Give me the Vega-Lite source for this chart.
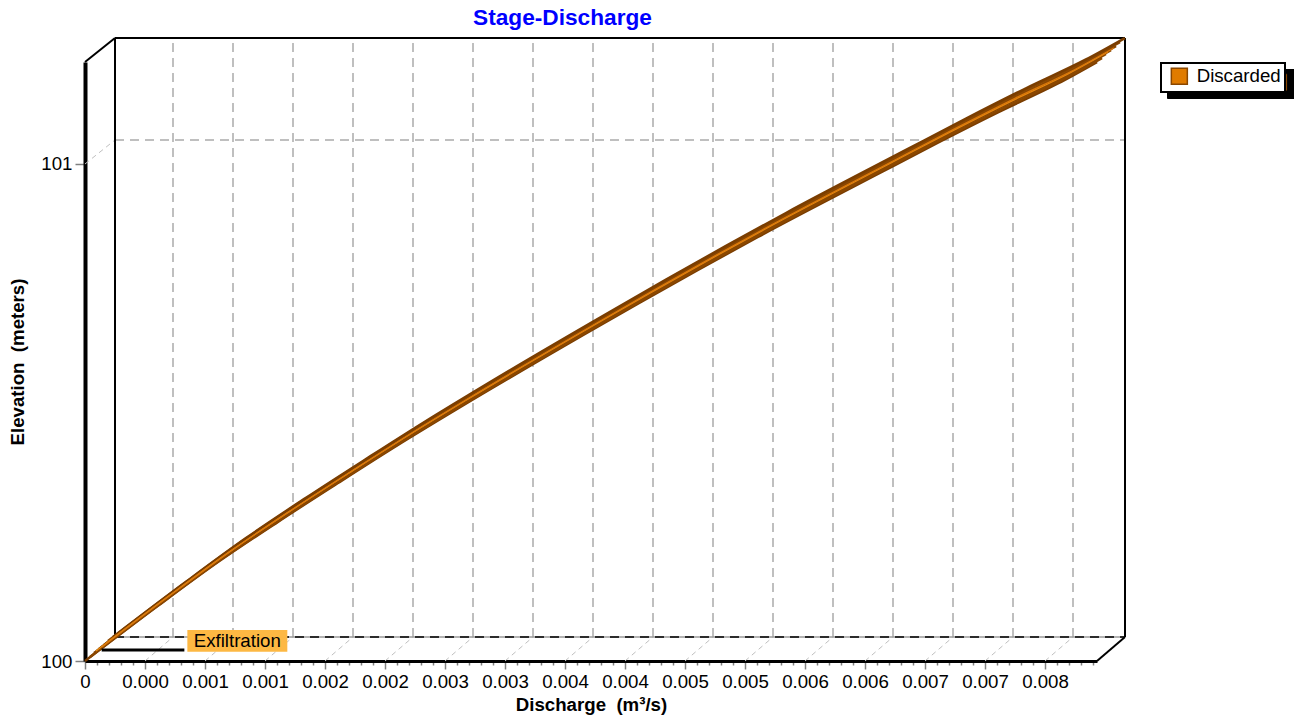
{
  "$schema": "https://vega.github.io/schema/vega-lite/v6.json",
  "width": 1012,
  "height": 599,
  "autosize": "none",
  "padding": {"left": 85, "top": 62, "right": 197, "bottom": 56},
  "background": "white",
  "config": {"view": {"stroke": null}, "font": "Liberation Sans"},
  "title": {"text": "Stage-Discharge", "color": "#0000FF", "font": "Liberation Sans", "fontSize": 22.67, "fontWeight": "bold", "anchor": "middle", "dx": -28.5, "dy": 27, "offset": 12, "baseline": "alphabetic", "frame": "group"},
  "resolve": {"axis": {"x": "independent", "y": "independent"}},
  "datasets": {
    "curve": [
      {"q": 0, "elev": 100, "series": "Discarded"},
      {"q": 0.000608, "elev": 100.1110, "series": "Discarded"},
      {"q": 0.001108, "elev": 100.1990, "series": "Discarded"},
      {"q": 0.001608, "elev": 100.2800, "series": "Discarded"},
      {"q": 0.002108, "elev": 100.3580, "series": "Discarded"},
      {"q": 0.002608, "elev": 100.4346, "series": "Discarded"},
      {"q": 0.003108, "elev": 100.5080, "series": "Discarded"},
      {"q": 0.004167, "elev": 100.6579, "series": "Discarded"},
      {"q": 0.004608, "elev": 100.7190, "series": "Discarded"},
      {"q": 0.005108, "elev": 100.7870, "series": "Discarded"},
      {"q": 0.005608, "elev": 100.8531, "series": "Discarded"},
      {"q": 0.006608, "elev": 100.9799, "series": "Discarded"},
      {"q": 0.007108, "elev": 101.0430, "series": "Discarded"},
      {"q": 0.007608, "elev": 101.1040, "series": "Discarded"},
      {"q": 0.008108, "elev": 101.1620, "series": "Discarded"},
      {"q": 0.008433, "elev": 101.2052, "series": "Discarded"}
    ],
    "xgrid": [
      {"q": 0.0005}, {"q": 0.001}, {"q": 0.0015}, {"q": 0.002}, {"q": 0.0025}, {"q": 0.003}, {"q": 0.0035}, {"q": 0.004},
      {"q": 0.0045}, {"q": 0.005}, {"q": 0.0055}, {"q": 0.006}, {"q": 0.0065}, {"q": 0.007}, {"q": 0.0075}, {"q": 0.008}
    ],
    "annot": [
      {"label": "Exfiltration", "q1": 0.000139, "q2": 0.000828, "elev": 100.0221, "bq1": 0.000853, "bq2": 0.001686, "be1": 100.0187, "be2": 100.0624, "tq": 0.001269, "te": 100.0406}
    ]
  },
  "layer": [
    {
      "data": {"name": "xgrid"},
      "mark": {"type": "rule", "color": "#BFBFBF", "strokeWidth": 2, "strokeDash": [9, 6], "xOffset": 28, "x2Offset": 28, "yOffset": -24, "y2Offset": -24},
      "encoding": {
        "x": {
          "field": "q", "type": "quantitative",
          "scale": {"domain": [0, 0.0084333], "nice": false, "zero": false},
          "axis": {
            "values": [0, 0.0001, 0.0002, 0.0003, 0.0004, 0.0005, 0.0006, 0.0007, 0.0008, 0.0009, 0.001, 0.0011, 0.0012, 0.0013, 0.0014, 0.0015, 0.0016, 0.0017, 0.0018, 0.0019, 0.002, 0.0021, 0.0022, 0.0023, 0.0024, 0.0025, 0.0026, 0.0027, 0.0028, 0.0029, 0.003, 0.0031, 0.0032, 0.0033, 0.0034, 0.0035, 0.0036, 0.0037, 0.0038, 0.0039, 0.004, 0.0041, 0.0042, 0.0043, 0.0044, 0.0045, 0.0046, 0.0047, 0.0048, 0.0049, 0.005, 0.0051, 0.0052, 0.0053, 0.0054, 0.0055, 0.0056, 0.0057, 0.0058, 0.0059, 0.006, 0.0061, 0.0062, 0.0063, 0.0064, 0.0065, 0.0066, 0.0067, 0.0068, 0.0069, 0.007, 0.0071, 0.0072, 0.0073, 0.0074, 0.0075, 0.0076, 0.0077, 0.0078, 0.0079, 0.008, 0.0081, 0.0082, 0.0083, 0.0084],
            "labelExpr": "round(datum.value*10000) % 5 == 0 ? (datum.value == 0 ? '0' : format(floor(round(datum.value*10000)/10)/1000, '.3f')) : ''",
            "tickSize": {"condition": {"test": "round(datum.value*10000) % 5 == 0", "value": 8}, "value": 4},
            "tickColor": "#808080",
            "tickWidth": 1.5,
            "grid": false,
            "domainColor": "#000000",
            "domainWidth": 3,
            "labelFont": "Liberation Sans",
            "labelFontSize": 18.67,
            "labelColor": "#000000",
            "labelPadding": 3,
            "labelFlush": false,
            "labelOverlap": false,
            "title": "Discharge \u00a0(m³/s)",
            "titleFont": "Liberation Sans",
            "titleFontSize": 18.67,
            "titleFontWeight": "bold",
            "titleColor": "#000000",
            "titleX": 506,
            "titleY": 49,
            "titleAlign": "center",
            "titleBaseline": "alphabetic"
          }
        },
        "x2": {"field": "q"},
        "y": {
          "datum": 100, "type": "quantitative",
          "scale": {"domain": [100, 101.2052], "nice": false, "zero": false},
          "axis": {
            "values": [100, 101],
            "format": "d",
            "tickSize": 10,
            "tickColor": "#808080",
            "tickWidth": 1.5,
            "grid": false,
            "domainColor": "#000000",
            "domainWidth": 4,
            "labelFont": "Liberation Sans",
            "labelFontSize": 18.67,
            "labelColor": "#000000",
            "labelPadding": 3,
            "labelFlush": false,
            "labelOverlap": false,
            "title": "Elevation \u00a0(meters)",
            "titleFont": "Liberation Sans",
            "titleFontSize": 18.67,
            "titleFontWeight": "bold",
            "titleColor": "#000000",
            "titleX": -68,
            "titleY": 299.5,
            "titleAngle": 270,
            "titleAlign": "center",
            "titleBaseline": "middle"
          }
        },
        "y2": {"datum": 101.2052}
      }
    },
    {
      "data": {"name": "xgrid"},
      "mark": {"type": "rule", "color": "#BFBFBF", "strokeWidth": 1, "strokeDash": [5, 4], "x2Offset": 28, "y2Offset": -24},
      "encoding": {
        "x": {"field": "q", "type": "quantitative", "axis": null},
        "x2": {"field": "q"},
        "y": {"datum": 100, "type": "quantitative", "axis": null},
        "y2": {"datum": 100}
      }
    },
    {
      "data": {"values": [{}]},
      "mark": {"type": "rule", "color": "#BFBFBF", "strokeWidth": 2, "strokeDash": [9, 6], "xOffset": 30, "x2Offset": 28, "yOffset": -24, "y2Offset": -24},
      "encoding": {
        "x": {"datum": 0, "type": "quantitative", "axis": null},
        "x2": {"datum": 0.0084333},
        "y": {"datum": 101, "type": "quantitative", "axis": null},
        "y2": {"datum": 101}
      }
    },
    {
      "data": {"values": [{}]},
      "mark": {"type": "rule", "color": "#BFBFBF", "strokeWidth": 1, "strokeDash": [5, 4], "x2Offset": 30, "y2Offset": -24},
      "encoding": {
        "x": {"datum": 0, "type": "quantitative", "axis": null},
        "x2": {"datum": 0},
        "y": {"datum": 101, "type": "quantitative", "axis": null},
        "y2": {"datum": 101}
      }
    },
    {
      "data": {"values": [{}]},
      "mark": {"type": "rule", "color": "#9A9A9A", "strokeWidth": 1.5, "xOffset": 30, "x2Offset": 28, "yOffset": -24, "y2Offset": -24},
      "encoding": {
        "x": {"datum": 0, "type": "quantitative", "axis": null},
        "x2": {"datum": 0.0084333},
        "y": {"datum": 100, "type": "quantitative", "axis": null},
        "y2": {"datum": 100}
      }
    },
    {
      "data": {"values": [{}]},
      "mark": {"type": "rule", "color": "#000000", "strokeWidth": 1.5, "strokeDash": [9, 6], "xOffset": 30, "x2Offset": 28, "yOffset": -24, "y2Offset": -24},
      "encoding": {
        "x": {"datum": 0, "type": "quantitative", "axis": null},
        "x2": {"datum": 0.0084333},
        "y": {"datum": 100, "type": "quantitative", "axis": null},
        "y2": {"datum": 100}
      }
    },
    {
      "data": {"values": [{}]},
      "mark": {"type": "rule", "color": "#000000", "strokeWidth": 2, "xOffset": 30, "x2Offset": 30, "yOffset": -24, "y2Offset": -24},
      "encoding": {
        "x": {"datum": 0, "type": "quantitative", "axis": null},
        "x2": {"datum": 0},
        "y": {"datum": 100, "type": "quantitative", "axis": null},
        "y2": {"datum": 101.2052}
      }
    },
    {
      "data": {"values": [{}]},
      "mark": {"type": "rule", "color": "#000000", "strokeWidth": 2, "xOffset": 30, "x2Offset": 28, "yOffset": -24, "y2Offset": -24},
      "encoding": {
        "x": {"datum": 0, "type": "quantitative", "axis": null},
        "x2": {"datum": 0.0084333},
        "y": {"datum": 101.2052, "type": "quantitative", "axis": null},
        "y2": {"datum": 101.2052}
      }
    },
    {
      "data": {"values": [{}]},
      "mark": {"type": "rule", "color": "#000000", "strokeWidth": 2, "xOffset": 28, "x2Offset": 28, "yOffset": -24, "y2Offset": -24},
      "encoding": {
        "x": {"datum": 0.0084333, "type": "quantitative", "axis": null},
        "x2": {"datum": 0.0084333},
        "y": {"datum": 100, "type": "quantitative", "axis": null},
        "y2": {"datum": 101.2052}
      }
    },
    {
      "data": {"values": [{}]},
      "mark": {"type": "rule", "color": "#000000", "strokeWidth": 2, "x2Offset": 28, "y2Offset": -24},
      "encoding": {
        "x": {"datum": 0.0084333, "type": "quantitative", "axis": null},
        "x2": {"datum": 0.0084333},
        "y": {"datum": 100, "type": "quantitative", "axis": null},
        "y2": {"datum": 100}
      }
    },
    {
      "data": {"values": [{}]},
      "mark": {"type": "rule", "color": "#000000", "strokeWidth": 2, "x2Offset": 30, "y2Offset": -24},
      "encoding": {
        "x": {"datum": 0, "type": "quantitative", "axis": null},
        "x2": {"datum": 0},
        "y": {"datum": 101.2052, "type": "quantitative", "axis": null},
        "y2": {"datum": 101.2052}
      }
    },
    {
      "data": {"name": "curve"},
      "mark": {"type": "line", "color": "#7A3D00", "strokeWidth": 2.5, "interpolate": "monotone", "xOffset": 0, "yOffset": 0},
      "encoding": {"x": {"field": "q", "type": "quantitative", "axis": null}, "y": {"field": "elev", "type": "quantitative", "axis": null}}
    },
    {
      "data": {"name": "curve"},
      "mark": {"type": "line", "color": "#8A4700", "strokeWidth": 2.5, "interpolate": "monotone", "xOffset": 5, "yOffset": -4},
      "encoding": {"x": {"field": "q", "type": "quantitative", "axis": null}, "y": {"field": "elev", "type": "quantitative", "axis": null}}
    },
    {
      "data": {"name": "curve"},
      "mark": {"type": "line", "color": "#8A4700", "strokeWidth": 2.5, "interpolate": "monotone", "xOffset": 9, "yOffset": -8},
      "encoding": {
        "x": {"field": "q", "type": "quantitative", "axis": null},
        "y": {"field": "elev", "type": "quantitative", "axis": null},
        "strokeDash": {
          "datum": "shadow", "type": "nominal",
          "scale": {"range": [[1, 0]]},
          "legend": {
            "title": null,
            "orient": "none",
            "legendX": 1082,
            "legendY": 7,
            "zindex": 1,
            "padding": 4,
            "symbolOffset": 98,
            "labelOffset": 0,
            "symbolType": "square",
            "symbolSize": 256,
            "labelExpr": "''",
            "labelFont": "Liberation Sans",
            "labelFontSize": 18.67,
            "labelColor": "#000000",
            "strokeColor": "#000000",
            "fillColor": "#000000",
            "cornerRadius": 0,
            "encode": {
              "legend": {"update": {"strokeWidth": {"value": 2}}},
              "symbols": {"update": {"fill": {"value": "#000000"}, "stroke": {"value": "#000000"}, "strokeWidth": {"value": 1.5}, "shape": {"value": "square"}, "size": {"value": 256}, "opacity": {"value": 1}, "strokeDash": {"value": [1, 0]}}}
            }
          }
        }
      }
    },
    {
      "data": {"name": "curve"},
      "mark": {"type": "line", "strokeWidth": 2.5, "interpolate": "monotone", "xOffset": 14, "yOffset": -12},
      "encoding": {
        "x": {"field": "q", "type": "quantitative", "axis": null},
        "y": {"field": "elev", "type": "quantitative", "axis": null},
        "color": {
          "field": "series", "type": "nominal",
          "scale": {"domain": ["Discarded"], "range": ["#8A4700"]},
          "legend": {
            "title": null,
            "orient": "none",
            "legendX": 1076,
            "legendY": 1,
            "zindex": 2,
            "padding": 4,
            "symbolOffset": 5,
            "labelOffset": 8,
            "symbolType": "square",
            "symbolSize": 256,
            "labelFont": "Liberation Sans",
            "labelFontSize": 18.67,
            "labelColor": "#000000",
            "strokeColor": "#000000",
            "fillColor": "#FFFFFF",
            "cornerRadius": 0,
            "encode": {
              "legend": {"update": {"strokeWidth": {"value": 2}}},
              "symbols": {"update": {"fill": {"value": "#E07B00"}, "stroke": {"value": "#8B4500"}, "strokeWidth": {"value": 1.5}, "shape": {"value": "square"}, "size": {"value": 256}, "opacity": {"value": 1}}}
            }
          }
        }
      }
    },
    {
      "data": {"name": "curve"},
      "mark": {"type": "line", "color": "#8A4700", "strokeWidth": 2.5, "interpolate": "monotone", "xOffset": 19, "yOffset": -16},
      "encoding": {"x": {"field": "q", "type": "quantitative", "axis": null}, "y": {"field": "elev", "type": "quantitative", "axis": null}}
    },
    {
      "data": {"name": "curve"},
      "mark": {"type": "line", "color": "#8A4700", "strokeWidth": 2.5, "interpolate": "monotone", "xOffset": 23, "yOffset": -20},
      "encoding": {"x": {"field": "q", "type": "quantitative", "axis": null}, "y": {"field": "elev", "type": "quantitative", "axis": null}}
    },
    {
      "data": {"name": "curve"},
      "mark": {"type": "line", "color": "#7A3D00", "strokeWidth": 2.5, "interpolate": "monotone", "xOffset": 28, "yOffset": -24},
      "encoding": {"x": {"field": "q", "type": "quantitative", "axis": null}, "y": {"field": "elev", "type": "quantitative", "axis": null}}
    },
    {
      "data": {"name": "curve"},
      "mark": {"type": "line", "color": "#E8890F", "strokeWidth": 1.3, "interpolate": "monotone", "xOffset": 11, "yOffset": -10},
      "encoding": {"x": {"field": "q", "type": "quantitative", "axis": null}, "y": {"field": "elev", "type": "quantitative", "axis": null}}
    },
    {
      "data": {"name": "curve"},
      "mark": {"type": "line", "color": "#D9780C", "strokeWidth": 1.3, "interpolate": "monotone", "xOffset": 17, "yOffset": -14},
      "encoding": {"x": {"field": "q", "type": "quantitative", "axis": null}, "y": {"field": "elev", "type": "quantitative", "axis": null}}
    },
    {
      "data": {"name": "annot"},
      "mark": {"type": "rule", "color": "#000000", "strokeWidth": 3},
      "encoding": {
        "x": {"field": "q1", "type": "quantitative", "axis": null},
        "x2": {"field": "q2"},
        "y": {"field": "elev", "type": "quantitative", "axis": null}
      }
    },
    {
      "data": {"name": "annot"},
      "mark": {"type": "rect", "color": "#FDB843"},
      "encoding": {
        "x": {"field": "bq1", "type": "quantitative", "axis": null},
        "x2": {"field": "bq2"},
        "y": {"field": "be1", "type": "quantitative", "axis": null},
        "y2": {"field": "be2"}
      }
    },
    {
      "data": {"name": "annot"},
      "mark": {"type": "text", "font": "Liberation Sans", "fontSize": 18.67, "color": "#000000", "align": "center", "baseline": "middle"},
      "encoding": {
        "x": {"field": "tq", "type": "quantitative", "axis": null},
        "y": {"field": "te", "type": "quantitative", "axis": null},
        "text": {"field": "label"}
      }
    }
  ]
}
